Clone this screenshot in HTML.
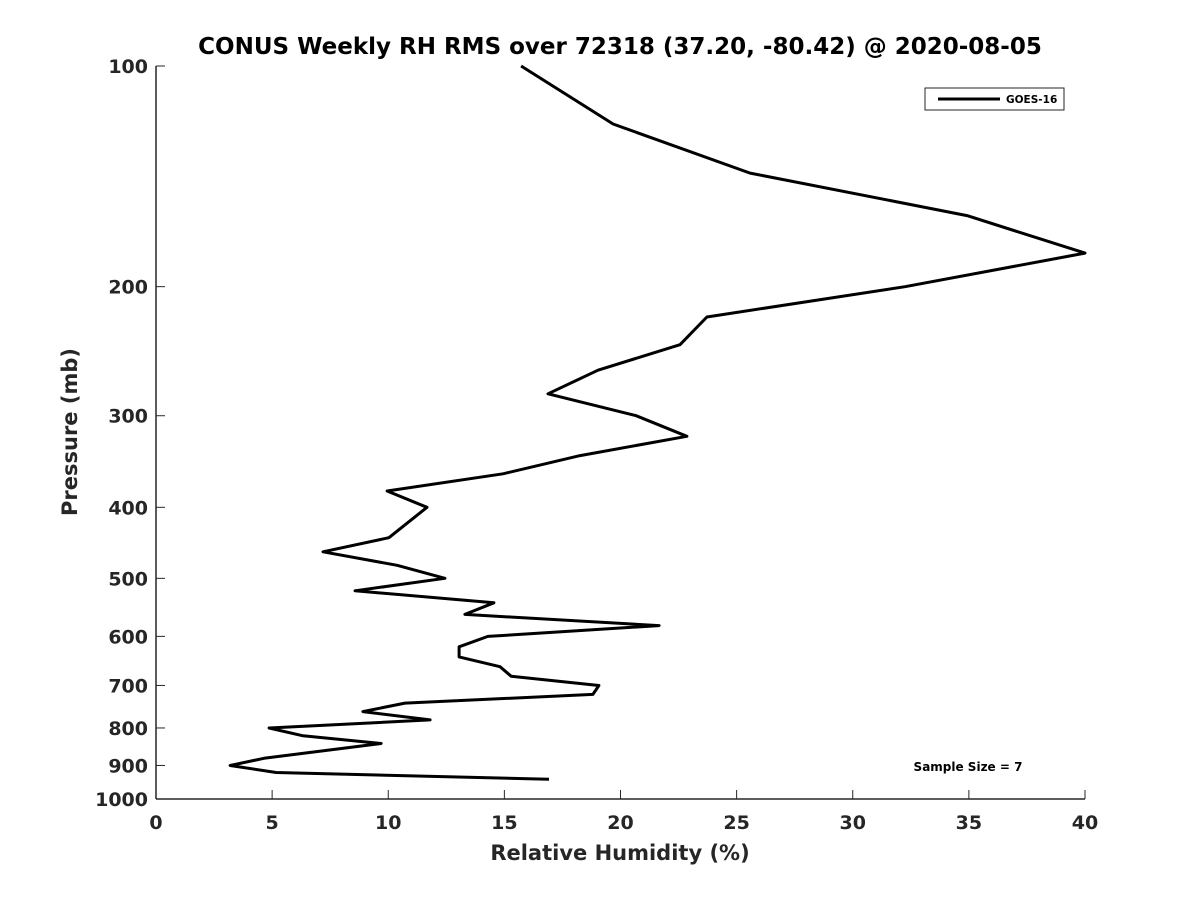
<!DOCTYPE html>
<html><head><meta charset="utf-8"><style>
html,body{margin:0;padding:0;background:#fff;}
svg{display:block;font-family:"DejaVu Sans","Liberation Sans",sans-serif;font-weight:bold;}
</style></head><body>
<svg id="chart" width="1200" height="900" viewBox="0 0 1200 900">
<rect width="1200" height="900" fill="#fff"/>
<text x="620" y="54" text-anchor="middle" font-size="23" fill="#000">CONUS Weekly RH RMS over 72318 (37.20, -80.42) @ 2020-08-05</text>
<g id="axes"></g>
<polyline id="series" fill="none" stroke="#000" stroke-width="3" stroke-linejoin="round"/>
<g>
<rect x="925" y="88" width="139" height="22" fill="#fff" stroke="#262626" stroke-width="1"/>
<line x1="938" y1="99" x2="1000" y2="99" stroke="#000" stroke-width="3"/>
<text x="1006" y="103" font-size="10.5" fill="#000">GOES-16</text>
</g>
<text x="968" y="771" text-anchor="middle" font-size="12" fill="#000">Sample Size = 7</text>
<text x="620" y="860" text-anchor="middle" font-size="21" fill="#262626">Relative Humidity (%)</text>
<text transform="translate(77,432) rotate(-90)" text-anchor="middle" font-size="21" fill="#262626">Pressure (mb)</text>
</svg>
<script>
const rhValues=[15.72,19.68,25.58,34.92,40.0,32.25,23.72,22.56,19.03,16.88,20.67,22.86,18.26,14.94,9.95,11.67,10.03,7.19,10.38,12.44,8.57,14.55,13.30,21.66,14.29,13.05,13.05,14.81,15.29,19.07,18.81,10.72,8.91,11.80,4.87,6.33,9.69,4.65,3.19,5.17,16.92];
const pressureLevels=[100,120,140,160,180,200,220,240,260,280,300,320,340,360,380,400,440,460,480,500,520,540,560,580,600,620,640,660,680,700,720,740,760,780,800,820,840,880,900,920,940];
const xTicks=[0,5,10,15,20,25,30,35,40];
const yTicks=[100,200,300,400,500,600,700,800,900,1000];
const X0=156,X1=1085,Y0=66,Y1=799,XMIN=0,XMAX=40,PMIN=100,PMAX=1000;
function xs(v){return X0+(v-XMIN)/(XMAX-XMIN)*(X1-X0);}
function ys(p){return Y0+(Math.log10(p)-Math.log10(PMIN))/(Math.log10(PMAX)-Math.log10(PMIN))*(Y1-Y0);}
const NS="http://www.w3.org/2000/svg";
const ax=document.getElementById('axes');
function mk(tag,attrs){const e=document.createElementNS(NS,tag);for(const k in attrs)e.setAttribute(k,attrs[k]);return e;}
let a=mk('line',{x1:X0,y1:Y0,x2:X0,y2:Y1,stroke:'#262626','stroke-width':1.5});


ax.appendChild(a);
a=mk('line',{x1:X0,y1:Y1,x2:X1,y2:Y1,stroke:'#262626','stroke-width':1.5});


ax.appendChild(a);
xTicks.forEach(t=>{
 const x=xs(t);
 const l=mk('line',{x1:x,y1:Y1,x2:x,y2:Y1-9,stroke:'#262626','stroke-width':1});
 
 
 ax.appendChild(l);
 const tx=mk('text',{x:x,y:Y1+30,'text-anchor':'middle','font-size':19,fill:'#262626'});
 tx.textContent=t;
 
 
 ax.appendChild(tx);
});
yTicks.forEach(t=>{
 const y=ys(t);
 if(t<PMAX){const l=mk('line',{x1:X0,y1:y,x2:X0+9,y2:y,stroke:'#262626','stroke-width':1});
 
 
 ax.appendChild(l);}
 const tx=mk('text',{x:X0-8,y:y+7,'text-anchor':'end','font-size':19,fill:'#262626'});
 tx.textContent=t;
 
 
 ax.appendChild(tx);
});
document.getElementById('series').setAttribute('points',rhValues.map((v,i)=>xs(v).toFixed(1)+','+ys(pressureLevels[i]).toFixed(1)).join(' '));
</script>
</body></html>
